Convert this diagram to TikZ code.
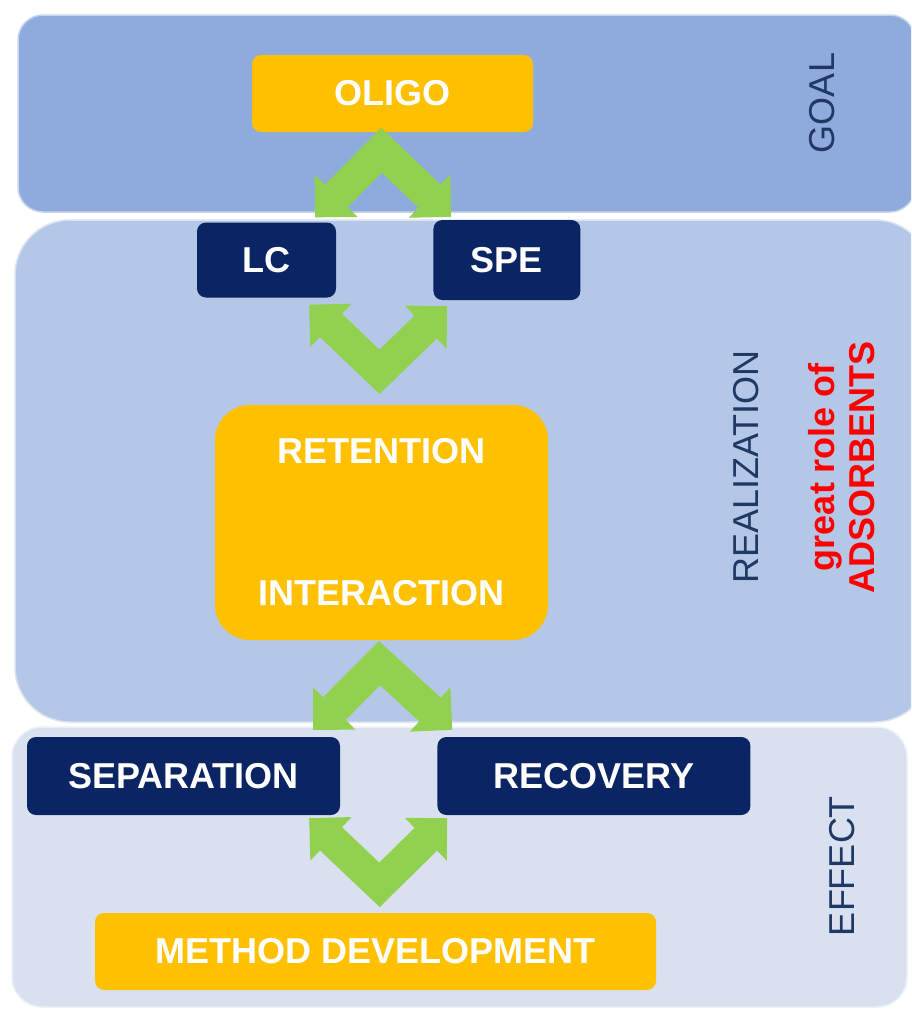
\documentclass[tikz,border=0pt]{standalone}
\usepackage{fontspec}
\setmainfont{Liberation Sans}
\usetikzlibrary{arrows.meta,positioning,calc}

\definecolor{goalblue}{HTML}{8FAADC}
\definecolor{realblue}{HTML}{B4C7E7}
\definecolor{effblue}{HTML}{D9E1F1}
\definecolor{gold}{HTML}{FFC000}
\definecolor{navy}{HTML}{0B2463}
\definecolor{leaf}{HTML}{92D050}
\definecolor{inkblue}{HTML}{1F3864}

\tikzset{
  band/.style={draw=white!50!#1, line width=1.5pt, fill=#1},
  goldbox/.style={rectangle, rounded corners=9pt, fill=gold, text=white, inner sep=0pt,
    font=\bfseries\fontsize{36}{40}\selectfont},
  navybox/.style={goldbox, fill=navy},
  chev/.style={draw=leaf, line width=32pt, {Triangle[length=30pt, width=60pt, line width=0pt]}-{Triangle[length=30pt, width=60pt, line width=0pt]}},
  tag/.style={rotate=90, text=inkblue, font=\fontsize{36}{40}\selectfont, align=center}
}

\begin{document}
\begin{tikzpicture}[x=1pt, y=-1pt]
  \useasboundingbox (0,0) rectangle (911,1012);
  \fill[white] (0,0) rectangle (911,1012);

  % the three bands
  \begin{scope}
    \clip (0,0) rectangle (911,1012);
    \path[band=goalblue, rounded corners=25pt] (18,15) rectangle (915,212);
    \path[band=realblue, rounded corners=55pt] (15,220) rectangle (930,722);
    \path[band=effblue, rounded corners=30pt] (12,727) rectangle (907,1007);
  \end{scope}

  \node[goldbox, minimum width=281pt, minimum height=77pt] (oligo) at (392.5,93.5) {OLIGO};
  \node[navybox, minimum width=139pt, minimum height=75pt] (lc) at (266.5,260) {LC};
  \node[navybox, minimum width=147pt, minimum height=80pt, right=97pt of lc] (spe) {SPE};
  \node[goldbox, rounded corners=35pt, minimum width=333pt, minimum height=235pt, align=center] (ret) at (381.5,522.5) {RETENTION\\[102pt]INTERACTION};
  \node[navybox, minimum width=313pt, minimum height=78pt] (sep) at (183.5,776) {SEPARATION};
  \node[navybox, minimum width=313pt, minimum height=78pt, right=97pt of sep] (rec) {RECOVERY};
  \node[goldbox, minimum width=561pt, minimum height=77pt] (meth) at (375.5,951.5) {METHOD DEVELOPMENT};

  \node[tag] (goal) at (822,103) {GOAL};
  \node[tag] (real) at (746,467) {REALIZATION};
  \node[tag, text=red, font=\bfseries\fontsize{36}{40}\selectfont] (role) at (842,467) {great role of\\ADSORBENTS};
  \node[tag] (effect) at (842,866) {EFFECT};

  \draw[chev] ($(lc.north east)+(-21,-5)$) -- ($(oligo.south)+(-11,18)$) -- ($(spe.north west)+(18,-3)$);
  \draw[chev] ($(lc.south east)+(-27,7)$) -- ($(ret.north)+(-2,-33)$) -- ($(spe.south west)+(14,6)$);
  \draw[chev] ($(sep.north east)+(-27,-7)$) -- ($(ret.south)+(-2,23)$) -- ($(rec.north west)+(15,-7)$);
  \draw[chev] ($(sep.south east)+(-31,3)$) -- ($(meth.north)+(4,-28)$) -- ($(rec.south west)+(10,3)$);
\end{tikzpicture}
\end{document}
